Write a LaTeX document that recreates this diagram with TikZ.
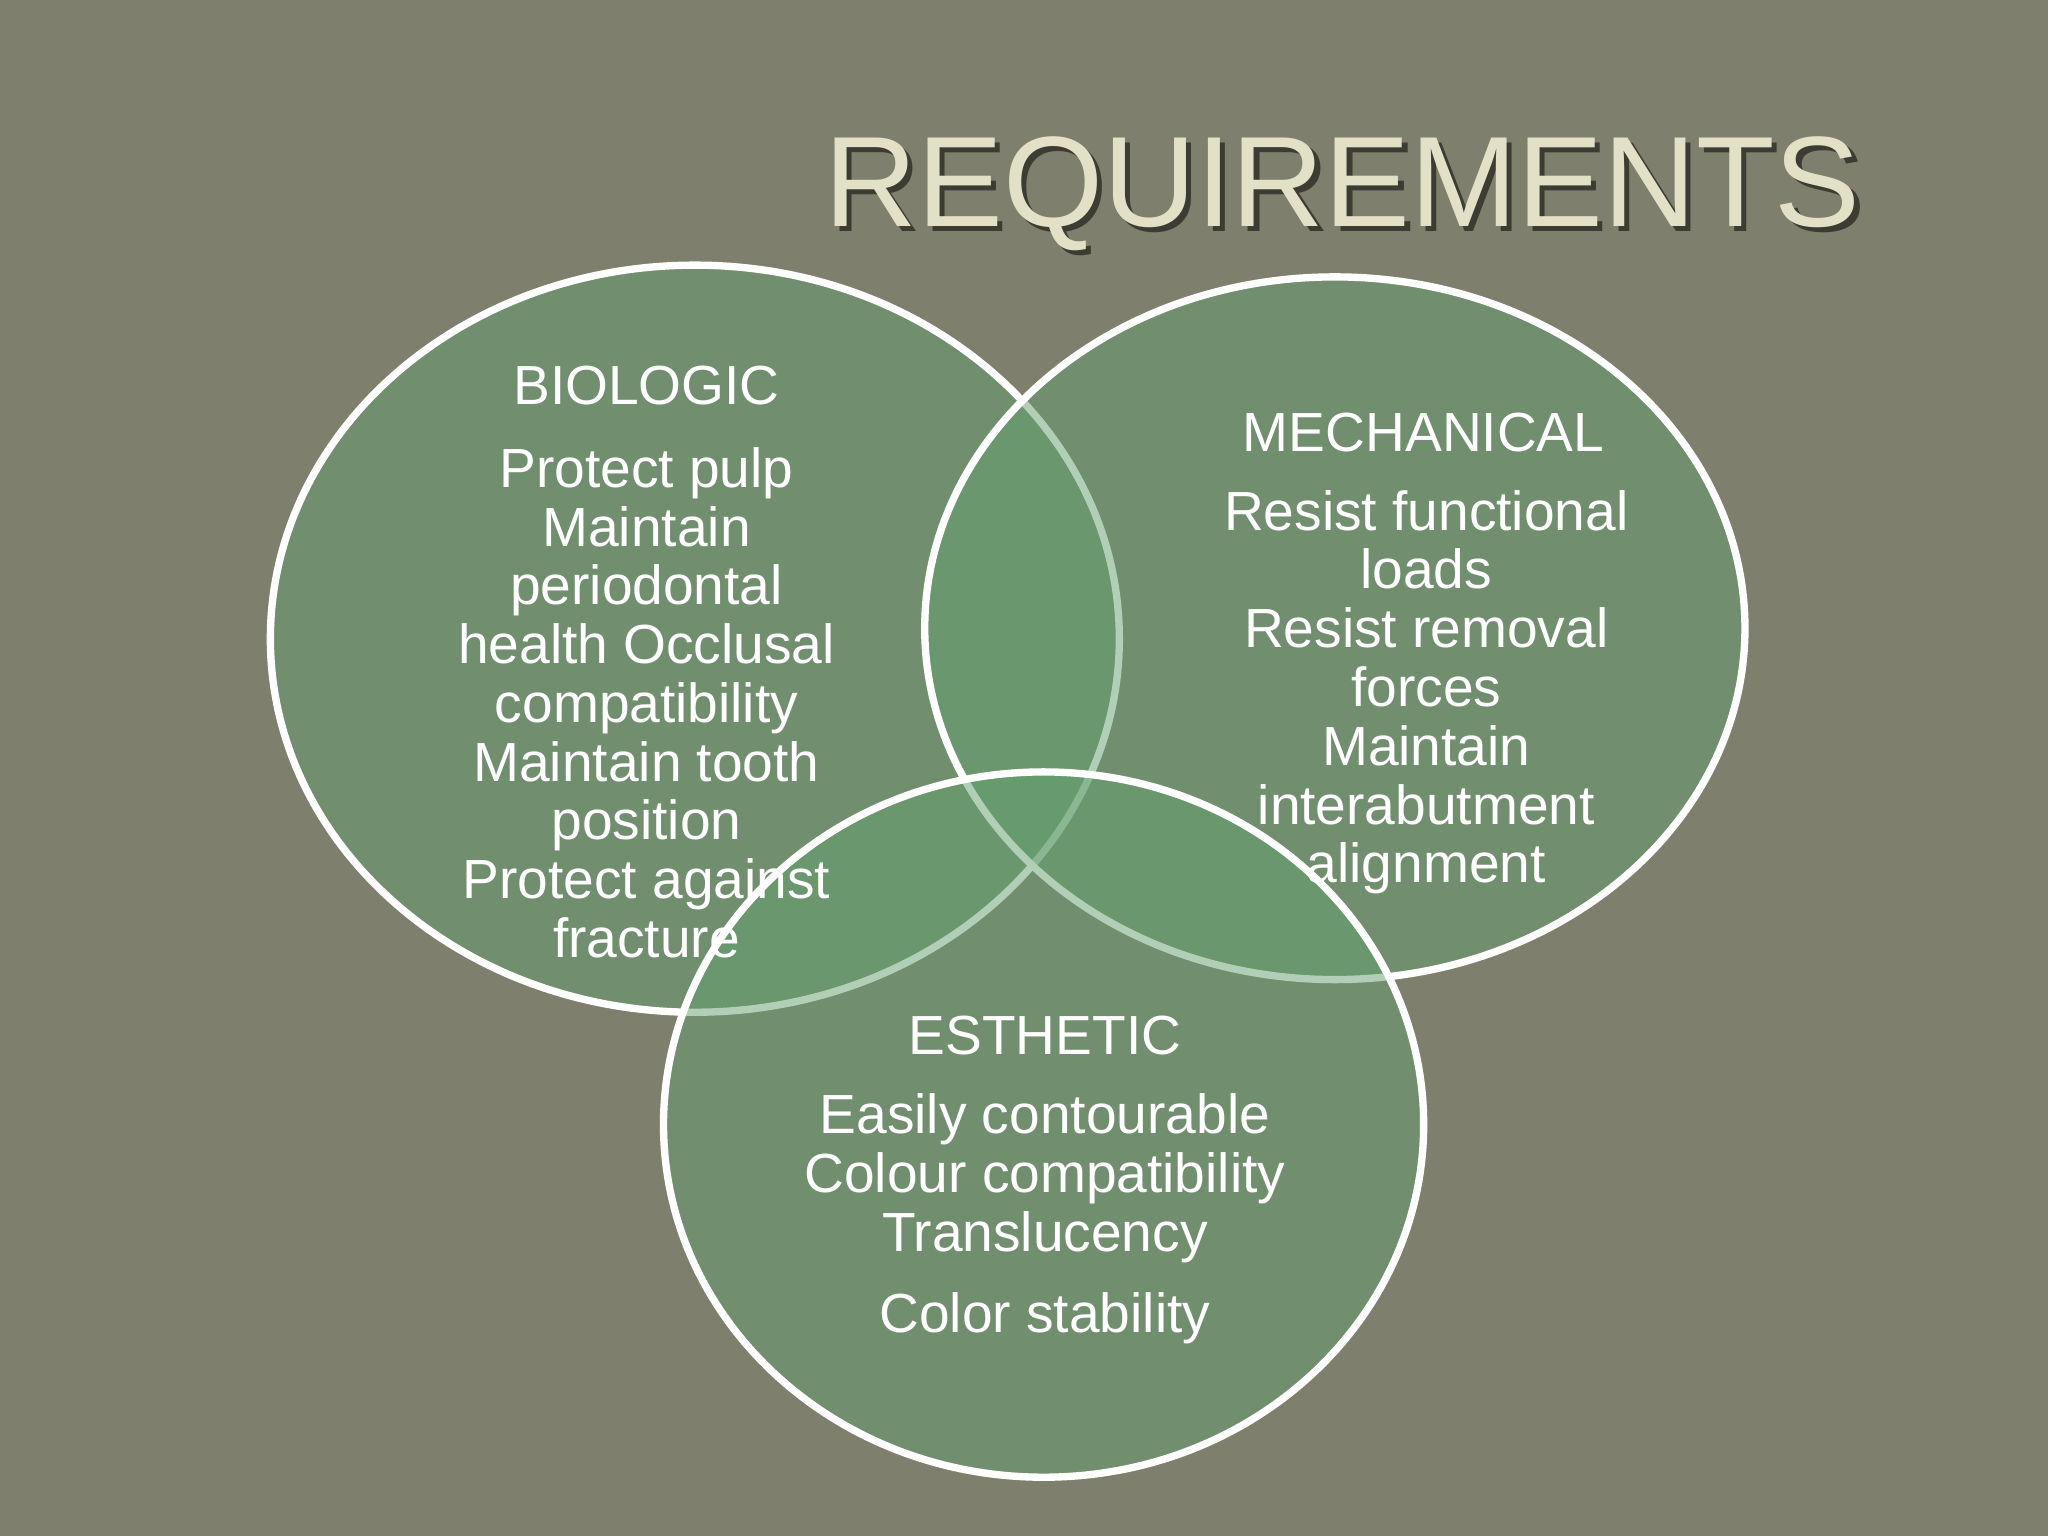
\documentclass[tikz,border=0pt]{standalone}
\usepackage{fontspec}
\setmainfont{Liberation Sans}
\begin{document}
\begin{tikzpicture}[x=0.01cm,y=-0.01cm,
  circ/.style={fill={rgb,255:red,100;green,160;blue,110},fill opacity=0.5,draw=white,line width=1.6pt},
  body/.style={text=white,font=\fontsize{12}{12.8}\selectfont,align=center},
  head/.style={text=white,font=\fontsize{12}{12.8}\selectfont}]
\fill[fill={rgb,255:red,127;green,127;blue,110}] (0,0) rectangle (1568,1176);
\useasboundingbox (0,0) rectangle (1568,1176);
\node[text={rgb,255:red,60;green,60;blue,50},font=\fontsize{28}{30}\selectfont] at (1032,152) {REQUIREMENTS};
\node (title) [text={rgb,255:red,226;green,225;blue,200},font=\fontsize{28}{30}\selectfont] at (1028,148) {REQUIREMENTS};
\draw[circ] (532,489) ellipse [x radius=325,y radius=286];
\draw[circ] (1022,481) ellipse [x radius=314,y radius=269];
\draw[circ] (799,861) ellipse [x radius=291,y radius=270];
\node (bh) [head] at (495,295) {BIOLOGIC};
\node (bb) [body] at (495,538) {Protect pulp\\Maintain\\periodontal\\health Occlusal\\compatibility\\Maintain tooth\\position\\Protect against\\fracture};
\node (mh) [head] at (1090,331) {MECHANICAL};
\node (mb) [body] at (1092,530) {Resist functional\\loads\\Resist removal\\forces\\Maintain\\interabutment\\alignment};
\node (eh) [head] at (800,793) {ESTHETIC};
\node (eb) [body] at (800,902) {Easily contourable\\Colour compatibility\\Translucency};
\node (ec) [body] at (800,1009) {Color stability};
\end{tikzpicture}
\end{document}
